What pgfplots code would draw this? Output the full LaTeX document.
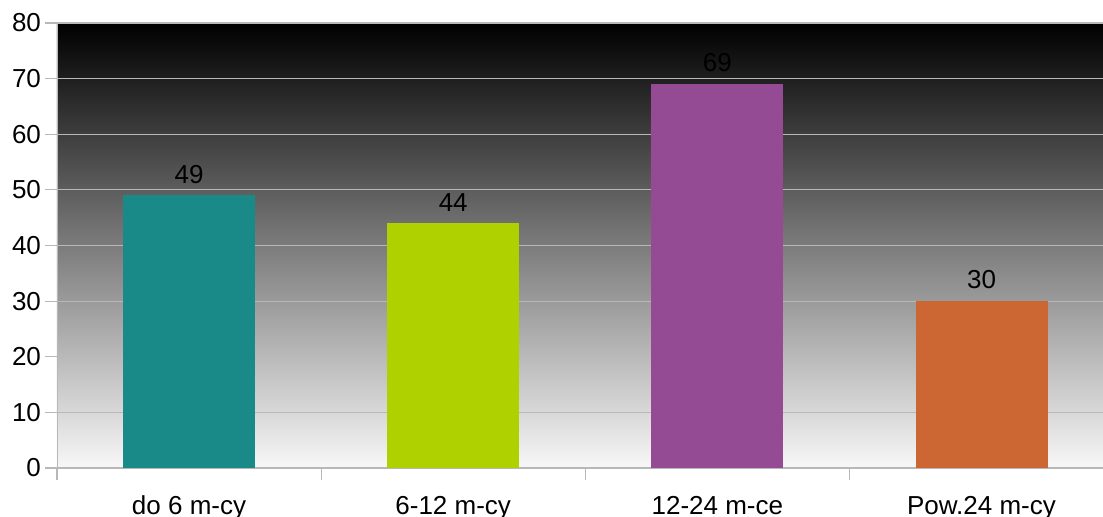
\documentclass[border=0pt]{standalone}
\usepackage{fontspec}
\setmainfont{Liberation Sans}
\usepackage{pgfplots}
\pgfplotsset{compat=1.18}
\definecolor{cteal}{HTML}{1A8A89}
\definecolor{clime}{HTML}{B0D100}
\definecolor{cpurp}{HTML}{954B94}
\definecolor{corng}{HTML}{CC6633}
\definecolor{gridc}{HTML}{B8B8B8}
\begin{document}
\begin{tikzpicture}
\begin{axis}[
  at={(0,0)}, anchor=south west,
  scale only axis, width=523pt, height=222.5pt,
  xmin=-0.5, xmax=3.46, ymin=0, ymax=80,
  axis x line*=bottom, axis y line*=left,
  axis line style={draw=gridc, -},
  axis background/.style={shade, top color=black, bottom color=white!97!black},
  ytick={0,10,...,80},
  ymajorgrids, grid style={gridc, line width=0.6pt},
  xtick={0,1,2,3},
  xticklabels={do 6 m-cy, 6-12 m-cy, 12-24 m-ce, Pow.24 m-cy},
  minor xtick={-0.5,0.5,1.5,2.5},
  tick align=outside,
  major tick length=6pt, minor tick length=6pt,
  x tick style={draw=none}, minor x tick style={draw=gridc, line width=0.6pt},
  y tick style={draw=gridc, line width=0.6pt},
  xticklabel style={font=\fontsize{13}{15}\selectfont, yshift=-4.5pt},
  yticklabel style={font=\fontsize{13}{15}\selectfont, xshift=1.5pt},
  /pgf/number format/assume math mode=true,
  nodes near coords,
  nodes near coords style={font=\fontsize{13}{15}\selectfont, black, yshift=2.5pt},
  clip=false,
]
\addplot[ybar, bar width=66pt, fill=cteal, draw=none] coordinates {(0,49)};
\addplot[ybar, bar width=66pt, fill=clime, draw=none] coordinates {(1,44)};
\addplot[ybar, bar width=66pt, fill=cpurp, draw=none] coordinates {(2,69)};
\addplot[ybar, bar width=66pt, fill=corng, draw=none] coordinates {(3,30)};
\end{axis}
\pgfresetboundingbox
\useasboundingbox (-28.5pt,-24.5pt) rectangle (523pt,234pt);
\end{tikzpicture}
\end{document}
